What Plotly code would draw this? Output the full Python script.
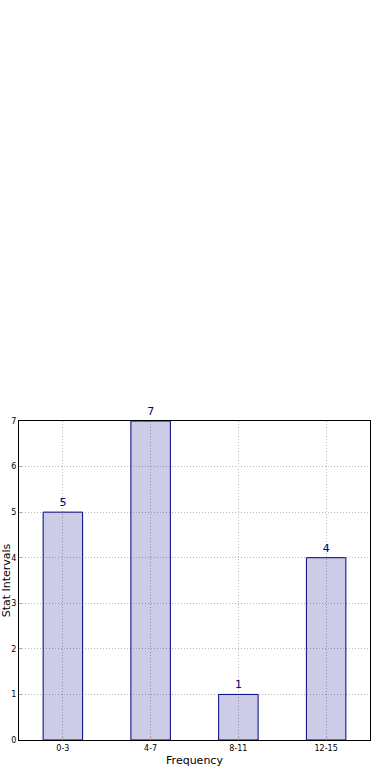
import plotly.graph_objects as go

categories = ["0-3", "4-7", "8-11", "12-15"]
counts = [5, 7, 1, 4]

fig = go.Figure()
fig.add_trace(go.Bar(
    x=categories, y=counts, width=0.45,
    marker=dict(color="rgba(0,0,128,0.2)", line=dict(color="#000080", width=1)),
    text=[str(c) for c in counts], textposition="outside",
    textfont=dict(color="#000080", size=11, family="DejaVu Sans"),
    cliponaxis=False,
))

fig.update_layout(
    width=390, height=780,
    margin=dict(l=19, r=20, t=421, b=40),
    paper_bgcolor="white", plot_bgcolor="white",
    showlegend=False,
    font=dict(family="DejaVu Sans", color="black"),
)
fig.update_xaxes(
    range=[-0.5, 3.5], showline=True, mirror=True, linecolor="black", linewidth=1,
    showgrid=True, gridcolor="#b8b8b8", griddash="1px,2px", gridwidth=1,
    tickfont=dict(size=8), ticks="inside", ticklen=3, tickcolor="#aaaaaa",
    title=dict(text="Frequency", font=dict(size=11), standoff=4),
    automargin=False,
)
fig.update_yaxes(
    range=[0, 7], dtick=1, showline=True, mirror=True, linecolor="black", linewidth=1,
    showgrid=True, gridcolor="#b8b8b8", griddash="1px,2px", gridwidth=1, zeroline=False,
    tickfont=dict(size=8), ticks="inside", ticklen=3, tickcolor="#aaaaaa",
    title=dict(text="Stat Intervals", font=dict(size=11), standoff=0),
    automargin=False,
)

fig.write_html("out.html")
